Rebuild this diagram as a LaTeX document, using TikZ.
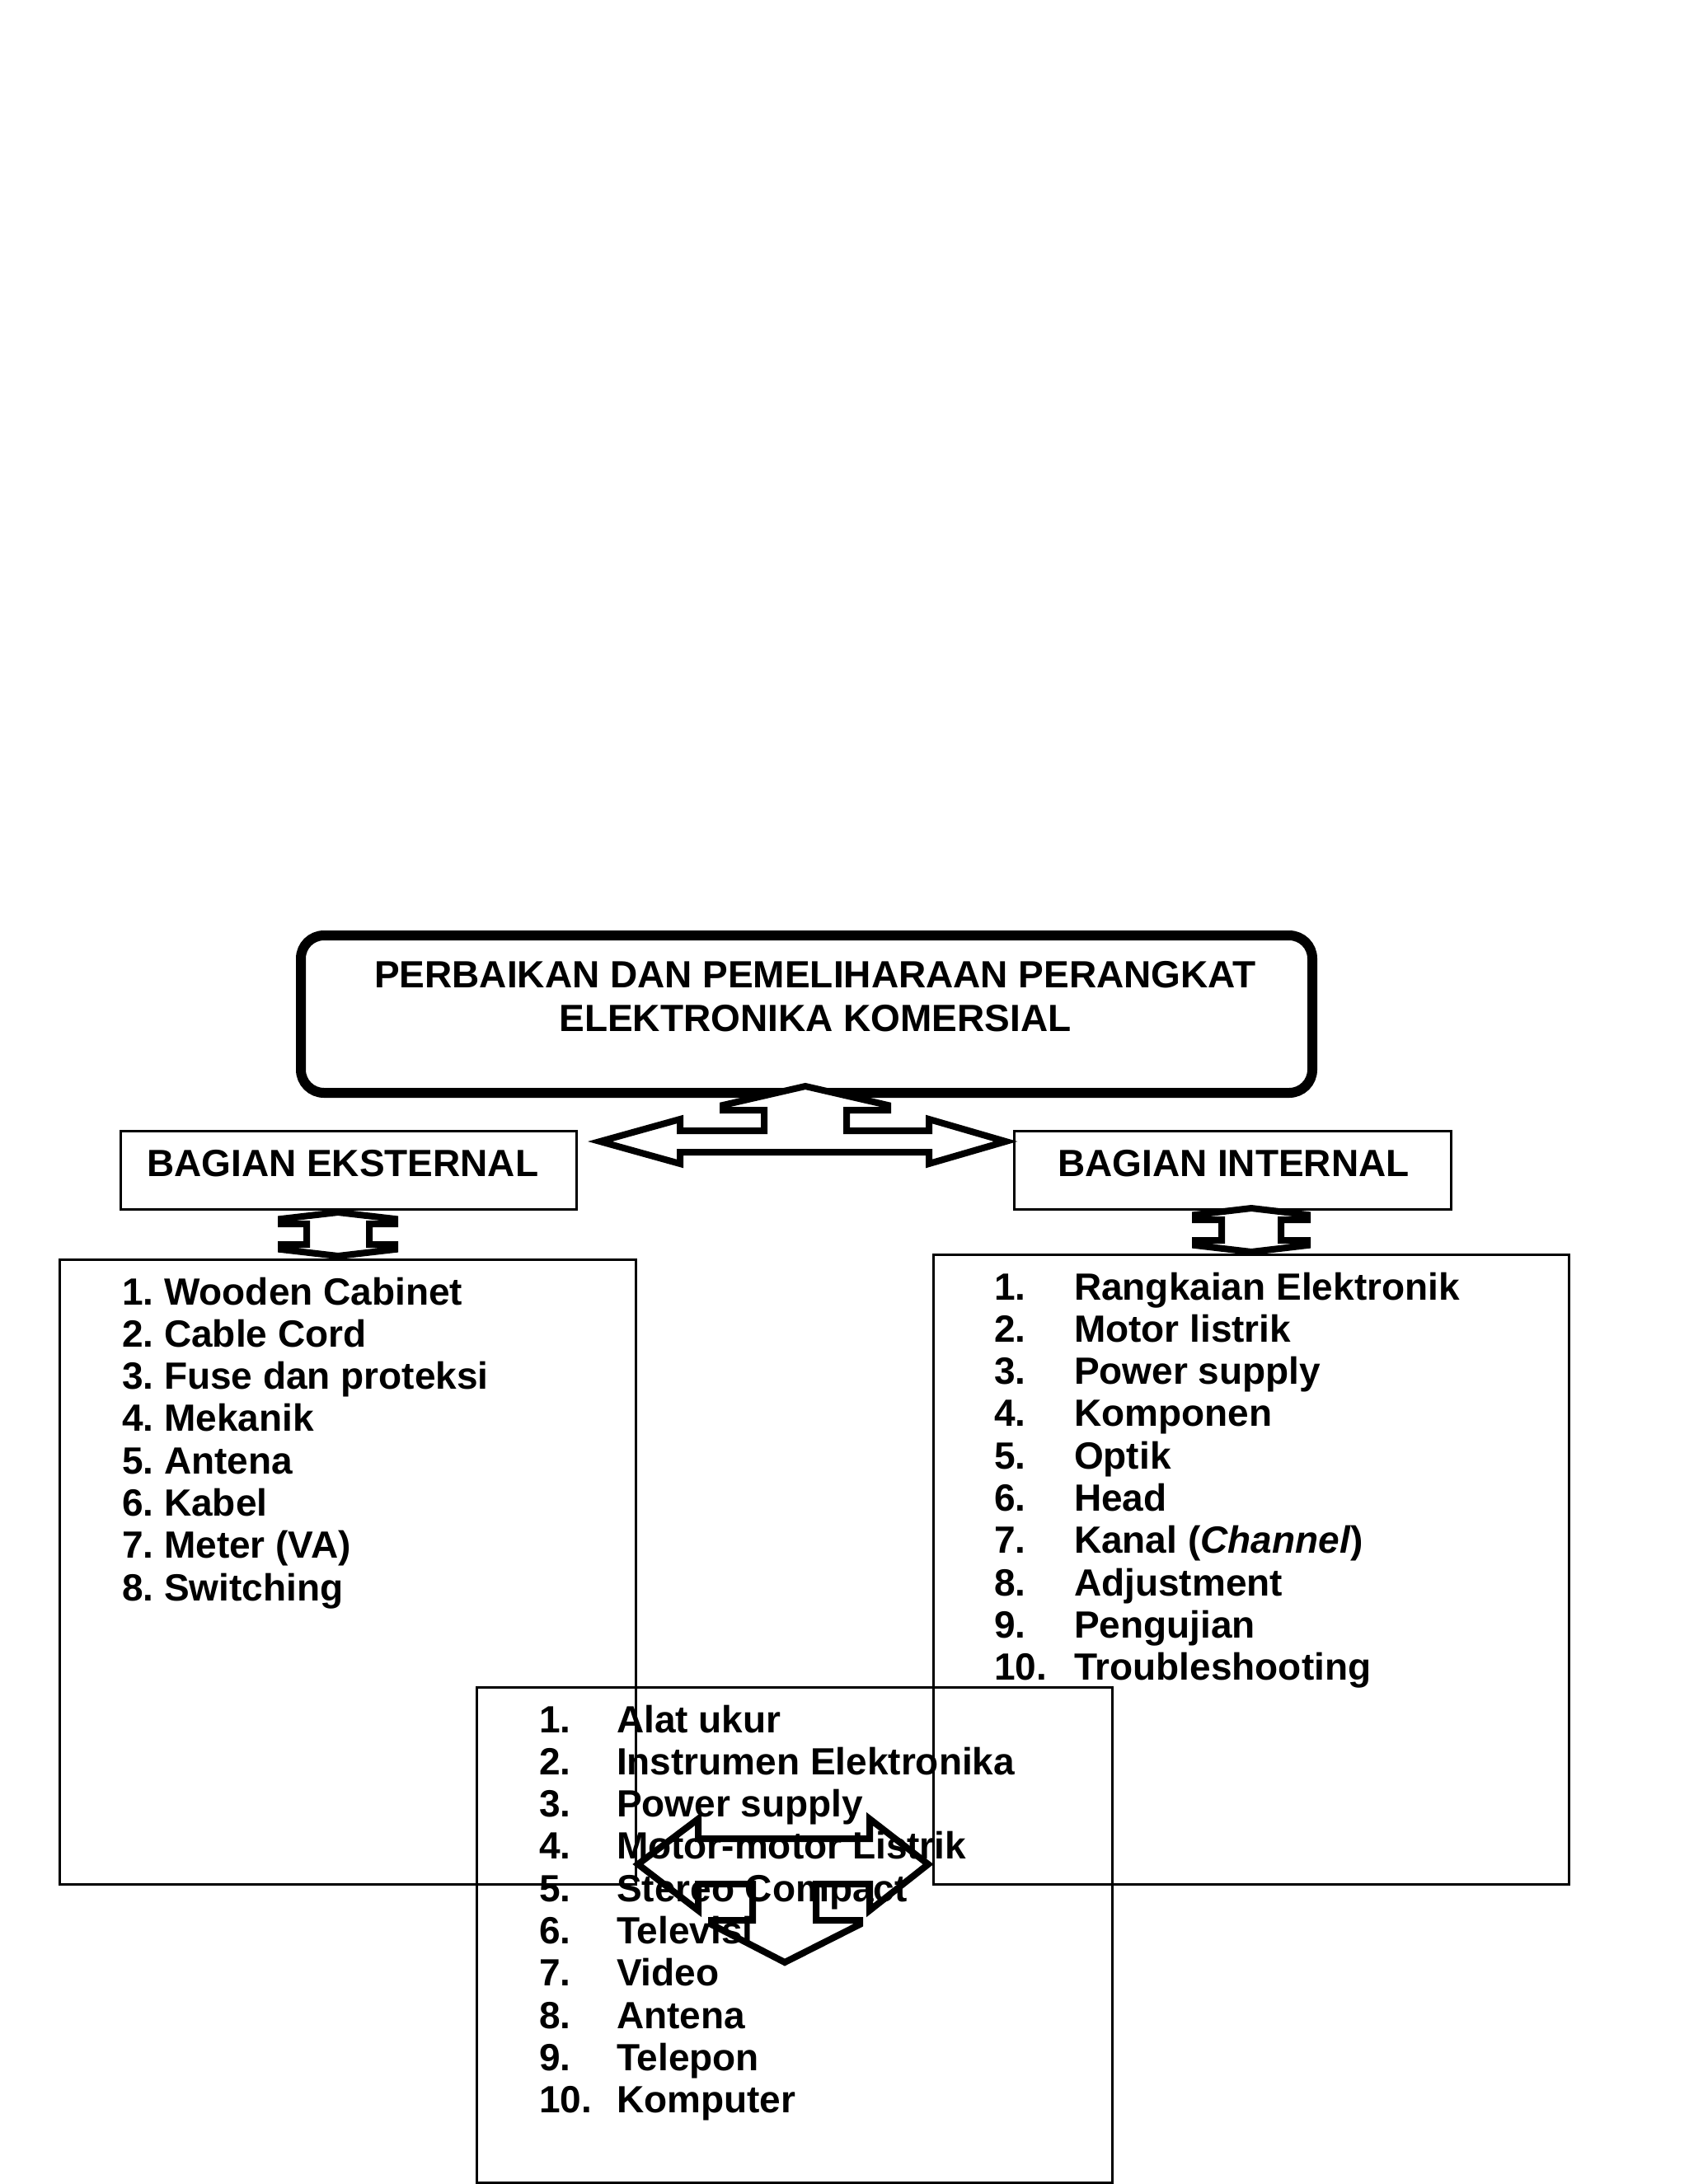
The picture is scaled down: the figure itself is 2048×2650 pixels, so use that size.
\documentclass[tikz,border=0pt]{standalone}
\usepackage{fontspec}
\setmainfont{Liberation Sans}
\frenchspacing
\begin{document}
\begin{tikzpicture}[x=1pt,y=-1pt,
  thinbox/.style={draw, line width=3pt, inner sep=0pt, outer sep=0pt, anchor=north west},
  titlebox/.style={draw, line width=12pt, rounded corners=28pt, inner sep=0pt, outer sep=0pt, anchor=north west},
  txt/.style={inner sep=0pt, outer sep=0pt, anchor=base west, font=\fontsize{46}{51}\selectfont\bfseries},
  ctxt/.style={inner sep=0pt, outer sep=0pt, anchor=base, font=\fontsize{46}{51}\selectfont\bfseries},
  blockarrow/.style={draw, line width=8pt, line join=miter, miter limit=10}]
\fill[white] (0,0) rectangle (2048,2650);
\useasboundingbox (0,0) rectangle (2048,2650);

% boxes
\node[titlebox, minimum width=1227pt, minimum height=191pt] (title) at (365,1135) {};
\node[thinbox, minimum width=553pt, minimum height=95pt] (ext) at (146,1372) {};
\node[thinbox, minimum width=530pt, minimum height=95pt] (int) at (1230,1372) {};
\node[thinbox, minimum width=699pt, minimum height=758pt] (extlist) at (72,1528) {};
\node[thinbox, minimum width=771pt, minimum height=764pt] (intlist) at (1132,1522) {};
\node[thinbox, minimum width=771pt, minimum height=601pt] (botlist) at (578,2047) {};

% titles
\node[ctxt] (t1) at (989,1198) {PERBAIKAN DAN PEMELIHARAAN PERANGKAT};
\node[ctxt] (t2) at (989,1251) {ELEKTRONIKA KOMERSIAL};
\node[txt] (extlabel) at (178,1427) {BAGIAN EKSTERNAL};
\node[txt] (intlabel) at (1283,1427) {BAGIAN INTERNAL};

% left list
\foreach \t [count=\i from 0] in {1. Wooden Cabinet, 2. Cable Cord, 3. Fuse dan proteksi, 4. Mekanik, 5. Antena, 6. Kabel, 7. Meter (VA), 8. Switching}
  \node[txt] (e\i) at (148,{1583+51.3*\i}) {\t};

% right list
\foreach \t [count=\i from 0] in {Rangkaian Elektronik, Motor listrik, Power supply, Komponen, Optik, Head, {Kanal (\textit{Channel})}, Adjustment, Pengujian, Troubleshooting}
  {\pgfmathtruncatemacro{\n}{\i+1}
   \node[txt] (rn\i) at (1206,{1577+51.3*\i}) {\n.};
   \node[txt] (r\i) at (1303,{1577+51.3*\i}) {\t};}

% bottom list
\foreach \t [count=\i from 0] in {Alat ukur, Instrumen Elektronika, Power supply, Motor-motor Listrik, Stereo Compact, Televisi, Video, Antena, Telepon, Komputer}
  {\pgfmathtruncatemacro{\n}{\i+1}
   \node[txt] (bn\i) at (654,{2102+51.3*\i}) {\n.};
   \node[txt] (b\i) at (748,{2102+51.3*\i}) {\t};}

% top three-way arrow
\filldraw[blockarrow, fill=white] (728,1385) -- (825,1358) -- (825,1372) -- (927,1372) -- (927,1347)
  -- (877,1347) -- (877,1341) -- (977,1318) -- (1077,1341) -- (1077,1347) -- (1027,1347)
  -- (1027,1372) -- (1127,1372) -- (1127,1358) -- (1220,1385) -- (1127,1412) -- (1127,1398)
  -- (825,1398) -- (825,1412) -- cycle;

% small up-down arrows
\filldraw[blockarrow, fill=white] (410,1471) -- (479,1479) -- (479,1485) -- (448,1485) -- (448,1510)
  -- (479,1510) -- (479,1516) -- (410,1524) -- (341,1516) -- (341,1510) -- (372,1510)
  -- (372,1485) -- (341,1485) -- (341,1479) -- cycle;
\filldraw[blockarrow, fill=white] (1518,1466) -- (1586,1474) -- (1586,1480) -- (1554,1480) -- (1554,1505)
  -- (1586,1505) -- (1586,1511) -- (1518,1519) -- (1450,1511) -- (1450,1505) -- (1482,1505)
  -- (1482,1480) -- (1450,1480) -- (1450,1474) -- cycle;

% bottom three-way arrow (unfilled)
\draw[blockarrow] (774,2262) -- (847,2207) -- (847,2231) -- (1055,2231) -- (1055,2207) -- (1126,2262)
  -- (1055,2318) -- (1055,2286) -- (990,2286) -- (990,2330) -- (1043,2330) -- (1043,2335)
  -- (952,2381) -- (863,2335) -- (863,2330) -- (913,2330) -- (913,2286) -- (847,2286)
  -- (847,2318) -- cycle;
\end{tikzpicture}
\end{document}
